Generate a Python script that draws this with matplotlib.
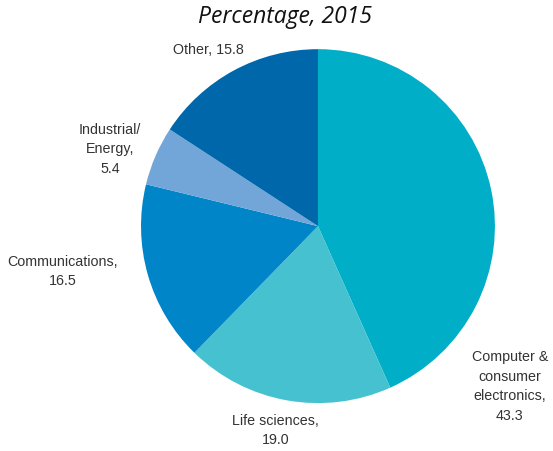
import matplotlib
matplotlib.use("Agg")
import matplotlib.pyplot as plt
from matplotlib import font_manager

# sector shares, percent
sectors = ["Computer &\nconsumer\nelectronics", "Life sciences", "Communications",
           "Industrial/\nEnergy", "Other"]
shares = [43.3, 19.0, 16.5, 5.4, 15.8]
colors = ["#00AEC7", "#45C1CF", "#0085C9", "#72A6D8", "#0068AA"]

# where each label sits, in pie-radius units from the centre
label_xy = [(1.085, -0.9), (-0.24, -1.15), (-1.445, -0.25), (-1.175, 0.44), (-0.62, 1.0)]
label_sep = [",\n", ",\n", ",\n", ",\n", ", "]

names = {f.name for f in font_manager.fontManager.ttflist}
label_font = "Liberation Sans Narrow" if "Liberation Sans Narrow" in names else "Liberation Sans"

fig = plt.figure(figsize=(5.53, 4.52), dpi=100)
ax = fig.add_axes([0.255, 0.106, 0.640, 0.783])

ax.pie(shares, colors=colors, startangle=90, counterclock=False, radius=1.0,
       wedgeprops=dict(linewidth=0))

for name, val, (x, y), sep in zip(sectors, shares, label_xy, label_sep):
    ax.text(x, y, f"{name}{sep}{val:.1f}", ha="center", va="center",
            fontsize=10.3, color="#333333", family=label_font, linespacing=1.5)

ax.set_xlim(-1, 1)
ax.set_ylim(-1, 1)
ax.set_aspect("equal")
ax.axis("off")

fig.text(0.515, 0.962, "Percentage, 2015", ha="center", va="center",
         fontsize=16.5, style="italic", family="Open Sans", color="#111111")

fig.savefig("out.png", dpi=100)
